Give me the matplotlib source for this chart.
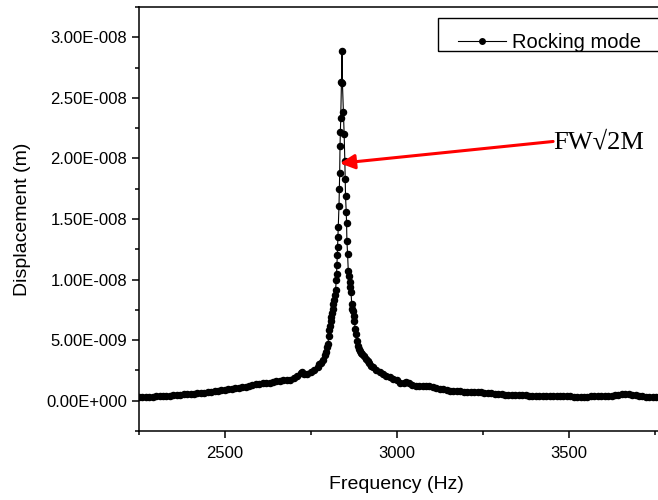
import numpy as np
import matplotlib
matplotlib.use("Agg")
import matplotlib.pyplot as plt
from matplotlib.patches import Rectangle
from matplotlib.ticker import FuncFormatter, MultipleLocator

plt.rcParams['font.family'] = ['Liberation Sans', 'DejaVu Sans']

# frequency (Hz) and displacement (in units of 1e-9 m)
freq = [
    2250, 2260, 2270, 2280, 2290, 2300, 2310, 2320, 2330, 2340,
    2350, 2360, 2370, 2380, 2390, 2400, 2410, 2420, 2430, 2440,
    2450, 2460, 2470, 2480, 2490, 2500, 2510, 2520, 2530, 2540,
    2550, 2560, 2570, 2580, 2590, 2600, 2610, 2620, 2630, 2640,
    2650, 2660, 2670, 2680, 2690, 2700, 2710, 2720, 2725, 2730,
    2740, 2750, 2760, 2770, 2775, 2780, 2785, 2790, 2795, 2798,
    2800, 2802, 2804, 2806, 2808, 2810, 2812, 2814, 2816, 2818,
    2820, 2822, 2824, 2825, 2826, 2827, 2828, 2829, 2830, 2832,
    2833, 2834, 2835, 2836, 2837, 2839, 2841, 2842, 2845, 2847,
    2849, 2850, 2851, 2853, 2854, 2855, 2857, 2859, 2861, 2863,
    2865, 2867, 2869, 2871, 2873, 2875, 2877, 2879, 2881, 2884,
    2887, 2889, 2892, 2896, 2900, 2905, 2910, 2915, 2920, 2925,
    2930, 2940, 2950, 2960, 2970, 2980, 2990, 3000, 3010, 3020,
    3028, 3035, 3045, 3055, 3065, 3075, 3085, 3095, 3105, 3115,
    3125, 3135, 3145, 3155, 3165, 3175, 3185, 3195, 3205, 3215,
    3225, 3235, 3245, 3255, 3265, 3275, 3285, 3295, 3305, 3315,
    3325, 3335, 3345, 3355, 3365, 3375, 3385, 3395, 3405, 3415,
    3425, 3435, 3445, 3455, 3465, 3475, 3485, 3495, 3505, 3515,
    3525, 3535, 3545, 3555, 3565, 3575, 3585, 3595, 3605, 3615,
    3625, 3635, 3645, 3655, 3665, 3675, 3685, 3695, 3705, 3715,
    3725, 3735, 3745, 3755, 3765, 3775, 3785, 3795,
]
disp_e9 = [
    0.27, 0.28, 0.30, 0.31, 0.33, 0.35, 0.37, 0.40, 0.42, 0.43,
    0.45, 0.47, 0.49, 0.52, 0.54, 0.56, 0.58, 0.61, 0.64, 0.67,
    0.70, 0.74, 0.79, 0.84, 0.88, 0.92, 0.95, 0.98, 1.02, 1.06,
    1.10, 1.15, 1.21, 1.30, 1.37, 1.40, 1.43, 1.47, 1.50, 1.55,
    1.60, 1.64, 1.68, 1.70, 1.74, 1.85, 2.05, 2.30, 2.35, 2.22,
    2.18, 2.35, 2.55, 2.80, 3.00, 3.15, 3.35, 3.80, 4.05, 4.40,
    4.70, 5.35, 5.85, 6.20, 6.60, 6.95, 7.20, 7.60, 7.95, 8.35,
    8.70, 9.15, 9.95, 10.5, 11.2, 12.0, 12.7, 13.5, 14.3, 16.1,
    17.5, 18.8, 21.0, 22.2, 23.3, 26.3, 28.85, 26.2, 23.8, 22.0,
    19.8, 18.3, 16.9, 15.6, 14.7, 13.2, 12.1, 10.7, 10.3, 9.8,
    9.36, 8.94, 7.98, 7.60, 7.43, 7.0, 6.6, 5.9, 5.5, 4.95,
    4.55, 4.27, 4.10, 3.95, 3.85, 3.70, 3.45, 3.30, 3.10, 2.90,
    2.75, 2.55, 2.34, 2.20, 2.06, 1.95, 1.80, 1.68, 1.50, 1.45,
    1.55, 1.45, 1.32, 1.25, 1.20, 1.22, 1.25, 1.20, 1.12, 1.05,
    0.98, 0.93, 0.88, 0.84, 0.82, 0.80, 0.78, 0.76, 0.74, 0.73,
    0.71, 0.70, 0.69, 0.67, 0.64, 0.60, 0.57, 0.55, 0.53, 0.51,
    0.50, 0.48, 0.47, 0.46, 0.45, 0.44, 0.43, 0.42, 0.42, 0.41,
    0.41, 0.41, 0.41, 0.40, 0.39, 0.38, 0.37, 0.36, 0.35, 0.34,
    0.34, 0.33, 0.33, 0.34, 0.35, 0.35, 0.36, 0.37, 0.38, 0.40,
    0.43, 0.47, 0.50, 0.53, 0.55, 0.54, 0.50, 0.45, 0.40, 0.36,
    0.33, 0.32, 0.32, 0.33, 0.34, 0.34, 0.33, 0.33,
]
disp = np.array(disp_e9) * 1e-9


def origin_sci(v, pos):
    # Origin style labels: 3.00E-008
    if abs(v) < 1e-20:
        return "0.00E+000"
    exp = int(np.floor(np.log10(abs(v))))
    mant = v / 10 ** exp
    sign = "-" if exp < 0 else "+"
    return f"{mant:.2f}E{sign}{abs(exp):03d}"


fig = plt.figure(figsize=(6.58, 5.0), dpi=100)
ax = fig.add_axes([0.2112, 0.138, 0.8096, 0.848])

line, = ax.plot(freq, disp, '-', color='black', linewidth=0.8,
                marker='o', markersize=4.4, markerfacecolor='black',
                markeredgecolor='black', label='Rocking mode')

ax.set_xlim(2250, 3800)
ax.set_ylim(-2.5e-9, 3.25e-8)
ax.xaxis.set_major_locator(MultipleLocator(500))
ax.xaxis.set_minor_locator(MultipleLocator(250))
ax.yaxis.set_major_locator(MultipleLocator(5e-9))
ax.yaxis.set_minor_locator(MultipleLocator(2.5e-9))
ax.yaxis.set_major_formatter(FuncFormatter(origin_sci))
ax.tick_params(which='major', direction='out', length=5, width=1.1, labelsize=12)
ax.tick_params(which='minor', direction='out', length=3, width=1.1)
ax.tick_params(axis='x', pad=6)
for s in ax.spines.values():
    s.set_linewidth(1.1)

ax.set_xlabel("Frequency (Hz)", fontsize=14)
ax.set_ylabel("Displacement (m)", fontsize=14)
# put the axis titles where the original has them (x title under 3000)
ax.xaxis.set_label_coords(0.484, -0.105)
ax.yaxis.set_label_coords(-0.203, 0.5)

# annotation with red arrow
ax.annotate("", xy=(2835, 19.6e-9), xytext=(3455, 21.4e-9),
            arrowprops=dict(arrowstyle='-|>', color='red', lw=2.2,
                            mutation_scale=22, shrinkA=0, shrinkB=0))
ax.text(3455, 21.3e-9, "FW\u221a2M", fontsize=19, va='center', ha='left',
        family=['Liberation Serif', 'DejaVu Serif'])

# legend, frame runs off the right edge like the original
leg = fig.legend(handles=[line], labels=['Rocking mode'], loc='upper left',
                 bbox_to_anchor=(442 / 658, 1 - 17 / 500), frameon=False,
                 fontsize=14.5, handlelength=2.4, handletextpad=0.3,
                 numpoints=1, markerscale=0.9, borderpad=0.3)
fig.patches.append(Rectangle((438 / 658, 1 - 51 / 500), 0.4, 33 / 500,
                             transform=fig.transFigure, fill=False,
                             edgecolor='black', linewidth=1.0))

fig.savefig("out.png", dpi=100)
